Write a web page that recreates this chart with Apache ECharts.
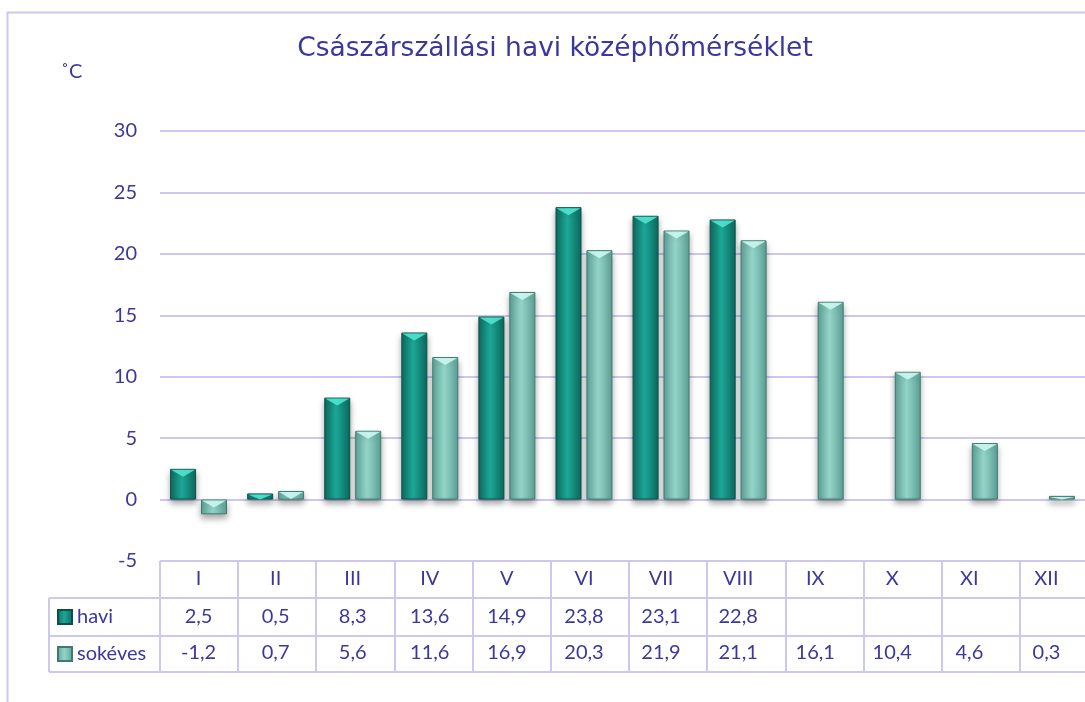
<!DOCTYPE html>
<html>
<head>
<meta charset="utf-8">
<script src="https://cdn.jsdelivr.net/npm/echarts@6/dist/echarts.min.js"></script>
<style>
  html, body { margin: 0; padding: 0; background: #fff; }
  #chart { width: 1085px; height: 702px; }
</style>
</head>
<body>
<div id="chart"></div>
<script>
var months = ['I', 'II', 'III', 'IV', 'V', 'VI', 'VII', 'VIII', 'IX', 'X', 'XI', 'XII'];
var havi = [2.5, 0.5, 8.3, 13.6, 14.9, 23.8, 23.1, 22.8, null, null, null, null];
var sokeves = [-1.2, 0.7, 5.6, 11.6, 16.9, 20.3, 21.9, 21.1, 16.1, 10.4, 4.6, 0.3];
var yTicks = { min: -5, max: 30, step: 5 };

var textColor = '#3b389c';
var lineColor = '#cdc8ef';
var font = 'Lato';

var gridLeft = 160, gridTop = 131, gridBottom = 141, catW = 78.2;
var rowLines = [561, 598, 636, 672];
var barW = 26, gapRatio = 0.19;

function fmt(v) {
    return v == null ? '' : v.toFixed(1).replace('.', ',');
}

function barGrad(edge, mid) {
    return new echarts.graphic.LinearGradient(0, 0, 1, 0, [
        { offset: 0, color: edge },
        { offset: 0.45, color: mid },
        { offset: 1, color: edge }
    ]);
}

var haviColor = barGrad('#0d6b60', '#1ca796');
var sokColor = barGrad('#5ea398', '#94d4c8');

// light V on top of each bar, drawn on the same axes as the bars
function bevelSeries(vals, side, color) {
    var data = [];
    vals.forEach(function (v, i) {
        if (v != null) data.push([i, v]);
    });
    var shift = side * (barW / 2 + barW * gapRatio / 2);
    return {
        type: 'custom',
        silent: true,
        z: 3,
        data: data,
        renderItem: function (params, api) {
            var p = api.coord([api.value(0), api.value(1)]);
            var z = api.coord([api.value(0), 0]);
            var cx = p[0] + shift;
            var top = Math.min(p[1], z[1]);
            var h = Math.min(8, Math.abs(p[1] - z[1]));
            var x0 = cx - barW / 2 + 1, x1 = cx + barW / 2 - 1;
            return {
                type: 'polygon',
                shape: { points: [[x0, top + 1], [x1, top + 1], [cx, top + h]] },
                style: { fill: color }
            };
        }
    };
}

// outer frame, unit label and table borders
var graphics = [{
    type: 'rect',
    shape: { x: 7.5, y: 12.5, width: 1300, height: 900 },
    style: { fill: 'none', stroke: lineColor, lineWidth: 2 },
    silent: true
}, {
    type: 'text',
    left: 61, top: 62,
    style: { text: '˚C', fill: textColor, font: '20px ' + font }
}];
rowLines.forEach(function (y, i) {
    graphics.push({
        type: 'line',
        shape: { x1: i == 0 ? gridLeft : 49, y1: y, x2: 1100, y2: y },
        style: { stroke: lineColor, lineWidth: 2 }
    });
});
graphics.push({
    type: 'line',
    shape: { x1: 49, y1: rowLines[1], x2: 49, y2: rowLines[3] },
    style: { stroke: lineColor, lineWidth: 2 }
});
for (var k = 0; k <= months.length; k++) {
    var x = Math.round(gridLeft + k * catW);
    graphics.push({
        type: 'line',
        shape: { x1: x, y1: rowLines[0], x2: x, y2: rowLines[3] },
        style: { stroke: lineColor, lineWidth: 2 }
    });
}

function rowAxis(data, offset) {
    return {
        type: 'category',
        data: data,
        position: 'bottom',
        offset: offset,
        axisLine: { show: false },
        axisTick: { show: false },
        axisLabel: { color: textColor, fontSize: 20, fontFamily: font, margin: 8, interval: 0 }
    };
}

var chart = echarts.init(document.getElementById('chart'));
chart.setOption({
    backgroundColor: '#fff',
    animation: false,
    title: {
        text: 'Császárszállási havi középhőmérséklet',
        left: 550, top: 31, textAlign: 'center',
        textStyle: { color: textColor, fontSize: 26.5, fontWeight: 'normal', fontFamily: 'DejaVu Sans' }
    },
    legend: {
        orient: 'vertical',
        left: 57, top: 607, padding: 0,
        itemWidth: 14, itemHeight: 14, itemGap: 17,
        icon: 'rect',
        textStyle: { color: textColor, fontSize: 20, fontFamily: font },
        data: ['havi', 'sokéves']
    },
    grid: { left: gridLeft, top: gridTop, bottom: gridBottom, width: catW * months.length, containLabel: false },
    xAxis: [
        rowAxis(months, 0),
        rowAxis(havi.map(fmt), 38),
        rowAxis(sokeves.map(fmt), 74)
    ],
    yAxis: {
        type: 'value',
        min: yTicks.min, max: yTicks.max, interval: yTicks.step,
        axisLine: { show: false },
        axisTick: { show: false },
        axisLabel: { color: textColor, fontSize: 20, fontFamily: font, margin: 23 },
        splitLine: { lineStyle: { color: lineColor, width: 2 } }
    },
    series: [{
        name: 'havi',
        type: 'bar',
        data: havi,
        barWidth: barW,
        barGap: (gapRatio * 100) + '%',
        itemStyle: {
            color: haviColor,
            borderColor: '#0b5149', borderWidth: 1,
            shadowColor: 'rgba(0,0,0,0.35)', shadowBlur: 6, shadowOffsetY: 4
        }
    }, {
        name: 'sokéves',
        type: 'bar',
        data: sokeves,
        barWidth: barW,
        itemStyle: {
            color: sokColor,
            borderColor: '#3f7a71', borderWidth: 1,
            shadowColor: 'rgba(0,0,0,0.35)', shadowBlur: 6, shadowOffsetY: 4
        }
    },
    bevelSeries(havi, -1, 'rgba(80,228,208,0.9)'),
    bevelSeries(sokeves, 1, 'rgba(200,248,240,0.9)')],
    graphic: graphics
});
</script>
</body>
</html>
